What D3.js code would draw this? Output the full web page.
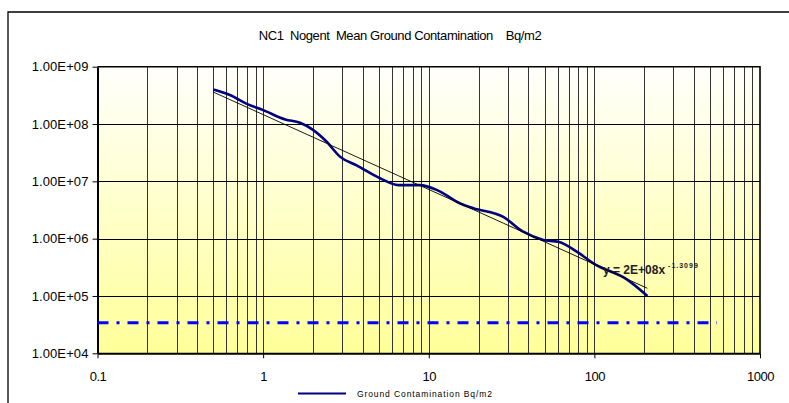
<!DOCTYPE html>
<html>
<head>
<meta charset="utf-8">
<script src="https://cdn.jsdelivr.net/npm/d3@7"></script>
<style>
  body { margin: 0; background: #fff; }
  svg { display: block; font-family: "Liberation Sans", Arial, sans-serif; }
</style>
</head>
<body>
<svg id="chart"></svg>
<script>
// distance (x) and mean ground contamination Bq/m2 (y)
const distance = [0.5, 0.63, 0.81, 1.0, 1.36, 1.67, 2.0, 2.42, 2.91, 3.67, 5.08, 6.55, 8.85,
    11.4, 15.5, 18.6, 28.2, 37.2, 49.2, 60.6, 80, 98.6, 157, 209];
const contamination = [4.0e8, 3.2e8, 2.2e8, 1.75e8, 1.2e8, 1.05e8, 7.9e7, 4.9e7, 2.7e7, 1.9e7,
    1.13e7, 8.6e6, 8.6e6, 6.9e6, 4.1e6, 3.4e6, 2.4e6, 1.32e6, 9.5e5, 8.8e5, 5.7e5, 3.7e5, 1.95e5, 1.0e5];

// power trendline y = a * x^b
const trendA = 1.46e8;
const trendB = -1.306;

// horizontal reference level (dash-dot)
const refX = [0.1, 550];
const refY = [3.4e4, 3.4e4];

const xTicks = [0.1, 1, 10, 100, 1000];
const xTickLabels = ['0.1', '1', '10', '100', '1000'];
const yTicks = [1e4, 1e5, 1e6, 1e7, 1e8, 1e9];
const yTickLabels = ['1.00E+04', '1.00E+05', '1.00E+06', '1.00E+07', '1.00E+08', '1.00E+09'];

const title = 'NC1  Nogent  Mean Ground Contamination    Bq/m2';
const legendLabel = 'Ground Contamination Bq/m2';
const trendLabel = 'y = 2E+08x';
const trendExp = '-1.3099';

const width = 789, height = 403;
const plot = { left: 97.5, top: 66.7, right: 760, bottom: 353.3 };

const svg = d3.select('#chart')
    .attr('width', width)
    .attr('height', height);

// outer chart frame (left and top edges visible)
svg.append('path')
    .attr('d', `M8,${height + 2} V12 H${width + 2}`)
    .attr('fill', 'none')
    .attr('stroke', '#000')
    .attr('stroke-width', 1.3);

svg.append('text')
    .attr('x', 400)
    .attr('y', 40)
    .attr('text-anchor', 'middle')
    .attr('font-size', 13)
    .attr('letter-spacing', -0.4)
    .style('white-space', 'pre')
    .text(title);

const defs = svg.append('defs');
const grad = defs.append('linearGradient')
    .attr('id', 'bg')
    .attr('x1', 0).attr('y1', 0).attr('x2', 0).attr('y2', 1);
grad.append('stop').attr('offset', '0%').attr('stop-color', '#fffffc');
grad.append('stop').attr('offset', '100%').attr('stop-color', '#ffff99');

const xScale = d3.scaleLog()
    .domain([0.1, 1000])
    .range([plot.left, plot.right]);

const yScale = d3.scaleLog()
    .domain([1e4, 1e9])
    .range([plot.bottom, plot.top]);

svg.append('rect')
    .attr('x', plot.left)
    .attr('y', plot.top)
    .attr('width', plot.right - plot.left)
    .attr('height', plot.bottom - plot.top)
    .attr('fill', 'url(#bg)');

// vertical grid at every log tick
const minorTicks = xScale.ticks().filter(d => d > 0.1 && d < 1000);
svg.append('g')
    .selectAll('line')
    .data(minorTicks)
    .join('line')
    .attr('x1', d => Math.round(xScale(d)) + 0.5)
    .attr('x2', d => Math.round(xScale(d)) + 0.5)
    .attr('y1', plot.top)
    .attr('y2', plot.bottom)
    .attr('stroke', '#333')
    .attr('stroke-width', 1);

// horizontal grid at decades
svg.append('g')
    .selectAll('line')
    .data(yTicks.slice(1, -1))
    .join('line')
    .attr('x1', plot.left)
    .attr('x2', plot.right)
    .attr('y1', d => Math.round(yScale(d)) + 0.5)
    .attr('y2', d => Math.round(yScale(d)) + 0.5)
    .attr('stroke', '#000')
    .attr('stroke-width', 1);

// axes
const xAxis = d3.axisBottom(xScale)
    .tickValues(xTicks)
    .tickFormat((d, i) => xTickLabels[i])
    .tickSize(5)
    .tickSizeOuter(0);

const yAxis = d3.axisLeft(yScale)
    .tickValues(yTicks)
    .tickFormat((d, i) => yTickLabels[i])
    .tickSize(5)
    .tickSizeOuter(0);

const xAxisG = svg.append('g')
    .attr('transform', `translate(0, ${plot.bottom})`)
    .call(xAxis);
xAxisG.select('.domain').attr('stroke-width', 2);
xAxisG.selectAll('text')
    .attr('font-size', 13)
    .attr('font-family', '"Liberation Sans", Arial, sans-serif')
    .attr('letter-spacing', -0.5)
    .attr('fill', '#000')
    .attr('dy', '1.5em');

const yAxisG = svg.append('g')
    .attr('transform', `translate(${plot.left}, 0)`)
    .call(yAxis);
yAxisG.select('.domain').attr('stroke-width', 2);
yAxisG.selectAll('text')
    .attr('font-size', 13)
    .attr('font-family', '"Liberation Sans", Arial, sans-serif')
    .attr('letter-spacing', 0.1)
    .attr('fill', '#000')
    .attr('x', -9);

// plot frame top and right
svg.append('path')
    .attr('d', `M${plot.left},${plot.top} H${plot.right} V${plot.bottom}`)
    .attr('fill', 'none')
    .attr('stroke', '#000')
    .attr('stroke-width', 1.6);

// reference dash-dot line
const refData = refX.map((d, i) => ({ x: d, y: refY[i] }));
svg.append('path')
    .datum(refData)
    .attr('fill', 'none')
    .attr('stroke', '#0000ff')
    .attr('stroke-width', 3)
    .attr('stroke-dasharray', '11,8,3,8')
    .attr('d', d3.line().x(d => xScale(d.x)).y(d => yScale(d.y)));

const data = distance.map((d, i) => ({ x: d, y: contamination[i] }));

// measured curve
svg.append('path')
    .datum(data)
    .attr('fill', 'none')
    .attr('stroke', '#000080')
    .attr('stroke-width', 2.6)
    .attr('stroke-linejoin', 'round')
    .attr('d', d3.line()
        .x(d => xScale(d.x))
        .y(d => yScale(d.y))
        .curve(d3.curveMonotoneX));

// power trendline
const trend = distance.map(d => ({ x: d, y: trendA * Math.pow(d, trendB) }));
svg.append('path')
    .datum(trend)
    .attr('fill', 'none')
    .attr('stroke', '#000')
    .attr('stroke-width', 0.9)
    .attr('d', d3.line().x(d => xScale(d.x)).y(d => yScale(d.y)));

// trendline equation
const eq = svg.append('text')
    .attr('x', 603)
    .attr('y', 274)
    .attr('font-size', 12)
    .attr('font-weight', 'bold')
    .attr('fill', '#222');
eq.append('tspan').text(trendLabel);
eq.append('tspan')
    .attr('font-size', 7)
    .attr('dx', 3)
    .attr('dy', -6)
    .attr('letter-spacing', 1)
    .text(trendExp);

// legend
svg.append('line')
    .attr('x1', 298).attr('x2', 346)
    .attr('y1', 393.5).attr('y2', 393.5)
    .attr('stroke', '#000080')
    .attr('stroke-width', 1.8);
svg.append('text')
    .attr('x', 357)
    .attr('y', 396.5)
    .attr('font-size', 8.5)
    .attr('letter-spacing', 0.9)
    .text(legendLabel);
</script>
</body>
</html>
